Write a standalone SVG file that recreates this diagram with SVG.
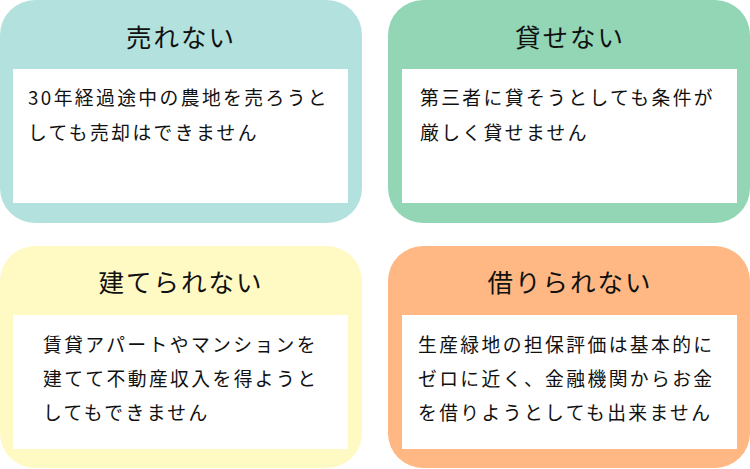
<svg xmlns="http://www.w3.org/2000/svg" width="750" height="469" viewBox="0 0 750 469">
<style>
.title{font-family:"Noto Sans CJK JP","Noto Sans",sans-serif;font-size:25.5px;fill:#111;text-anchor:middle;letter-spacing:2px}
.body{font-family:"Noto Sans CJK JP","Noto Sans",sans-serif;font-size:18.8px;fill:#111;letter-spacing:2.4px}
.inner{fill:#ffffff}
</style>
<rect width="750" height="469" fill="#ffffff"/>
<g id="node-urenai">
<rect x="0" y="0" width="362" height="223" rx="35" fill="#b3e1dd"/>
<rect class="inner" x="13" y="69" width="335" height="134"/>
<text class="title" x="181" y="47">売れない</text>
<text class="body" x="28" y="105">30年経過途中の農地を売ろうと</text>
<text class="body" x="28" y="140">しても売却はできません</text>
</g>
<g id="node-kasenai">
<rect x="388" y="0" width="362" height="223" rx="35" fill="#93d6b6"/>
<rect class="inner" x="402" y="69" width="335" height="134"/>
<text class="title" x="570" y="47">貸せない</text>
<text class="body" x="420" y="105">第三者に貸そうとしても条件が</text>
<text class="body" x="420" y="140">厳しく貸せません</text>
</g>
<g id="node-taterarenai">
<rect x="0" y="246" width="362" height="222" rx="35" fill="#fff9c4"/>
<rect class="inner" x="13" y="315" width="335" height="134"/>
<text class="title" x="181" y="292">建てられない</text>
<text class="body" x="43" y="352">賃貸アパートやマンションを</text>
<text class="body" x="43" y="386">建てて不動産収入を得ようと</text>
<text class="body" x="43" y="420">してもできません</text>
</g>
<g id="node-karirarenai">
<rect x="388" y="246" width="362" height="222" rx="35" fill="#ffb783"/>
<rect class="inner" x="402" y="315" width="335" height="134"/>
<text class="title" x="570" y="292">借りられない</text>
<text class="body" x="418" y="352">生産緑地の担保評価は基本的に</text>
<text class="body" x="418" y="386">ゼロに近く、金融機関からお金</text>
<text class="body" x="418" y="420">を借りようとしても出来ません</text>
</g>
<g id="connectors"></g>
</svg>
